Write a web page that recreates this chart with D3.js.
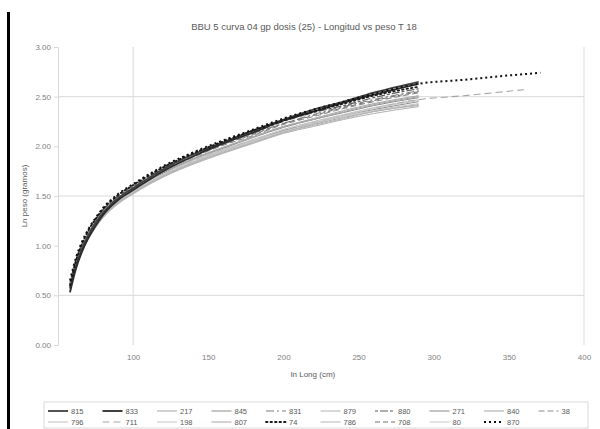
<!DOCTYPE html>
<html>
<head>
<meta charset="utf-8">
<script src="https://cdn.jsdelivr.net/npm/d3@7"></script>
<style>
  html, body { margin: 0; padding: 0; background: #fff; }
  svg { display: block; font-family: "Liberation Sans", Arial, sans-serif; }
</style>
</head>
<body>
<svg id="chart" width="600" height="429"></svg>
<script>
// Length (x) vs. log weight (y) growth curves
const chartTitle = "BBU 5 curva 04 gp dosis (25) - Longitud vs peso T 18";
const xTitle = "ln Long (cm)";
const yTitle = "Ln peso (gramos)";

const xTicks = [100, 150, 200, 250, 300, 350, 400];
const yTicks = [0, 0.5, 1, 1.5, 2, 2.5, 3];
const gridY = [0.5, 1.5, 2.5];
const gridX = [100, 400];

const xShort = [58, 62, 66, 70, 75, 80, 90, 100, 120, 140, 160, 180, 200, 220, 240, 260, 290];
const xGray = [58, 62, 66, 70, 75, 80, 90, 100, 120, 140, 160, 180, 200, 220, 240, 260, 290, 320, 340, 360];
const xLong = [58, 62, 66, 70, 75, 80, 90, 100, 120, 140, 160, 180, 200, 220, 240, 260, 290, 320, 340, 371];

const seriesNames = ["815", "833", "217", "845", "831", "879", "880", "271", "840", "38",
                     "796", "711", "198", "807", "74", "786", "708", "80", "870"];

const seriesValues = [
  [0.57,0.80,0.97,1.10,1.23,1.33,1.48,1.58,1.77,1.92,2.04,2.16,2.27,2.37,2.45,2.54,2.65],
  [0.53,0.77,0.94,1.07,1.20,1.31,1.46,1.56,1.75,1.90,2.03,2.14,2.26,2.35,2.44,2.52,2.63],
  [0.61,0.83,0.99,1.11,1.23,1.33,1.47,1.57,1.74,1.88,1.99,2.10,2.20,2.28,2.36,2.43,2.51],
  [0.59,0.80,0.96,1.08,1.20,1.30,1.44,1.54,1.71,1.84,1.96,2.06,2.16,2.23,2.31,2.37,2.45],
  [0.55,0.80,0.98,1.11,1.24,1.35,1.49,1.59,1.77,1.90,2.02,2.13,2.23,2.32,2.40,2.47,2.56],
  [0.57,0.78,0.94,1.06,1.18,1.28,1.42,1.52,1.69,1.82,1.93,2.03,2.13,2.20,2.27,2.33,2.40],
  [0.63,0.86,1.02,1.14,1.26,1.36,1.50,1.60,1.78,1.92,2.03,2.14,2.25,2.34,2.41,2.49,2.58],
  [0.60,0.82,0.98,1.10,1.22,1.32,1.46,1.56,1.73,1.87,1.98,2.09,2.19,2.27,2.34,2.41,2.49],
  [0.58,0.79,0.95,1.07,1.19,1.29,1.43,1.53,1.70,1.83,1.94,2.04,2.14,2.22,2.29,2.35,2.42],
  [0.62,0.84,1.00,1.12,1.24,1.34,1.48,1.58,1.76,1.89,2.01,2.11,2.22,2.30,2.38,2.45,2.54],
  [0.59,0.81,0.97,1.09,1.21,1.31,1.45,1.55,1.72,1.86,1.97,2.07,2.17,2.25,2.32,2.39,2.47],
  [0.60,0.81,0.96,1.08,1.20,1.30,1.44,1.54,1.71,1.85,1.96,2.06,2.16,2.24,2.31,2.38,2.47,2.51,2.54,2.57],
  [0.58,0.80,0.96,1.08,1.20,1.30,1.44,1.54,1.71,1.84,1.95,2.05,2.15,2.23,2.30,2.36,2.43],
  [0.61,0.83,0.99,1.11,1.23,1.33,1.47,1.57,1.74,1.87,1.99,2.09,2.20,2.27,2.35,2.42,2.50],
  [0.60,0.85,1.02,1.15,1.27,1.37,1.51,1.61,1.79,1.93,2.05,2.16,2.26,2.35,2.43,2.51,2.60],
  [0.57,0.79,0.95,1.07,1.19,1.29,1.43,1.53,1.70,1.83,1.94,2.04,2.14,2.21,2.28,2.35,2.41],
  [0.62,0.84,1.00,1.12,1.24,1.34,1.48,1.58,1.76,1.90,2.02,2.12,2.23,2.31,2.39,2.46,2.55],
  [0.60,0.81,0.97,1.09,1.21,1.31,1.45,1.55,1.72,1.85,1.96,2.06,2.17,2.24,2.31,2.38,2.46],
  [0.65,0.88,1.04,1.16,1.28,1.38,1.52,1.62,1.80,1.94,2.06,2.17,2.28,2.37,2.45,2.53,2.63,2.67,2.70,2.74]
];

// Line styles per series: stroke colour, width, dash pattern
const seriesStyles = [
  { c: "#404040", w: 1.8, d: null },
  { c: "#2b2b2b", w: 1.8, d: null },
  { c: "#a6a6a6", w: 1.0, d: null },
  { c: "#8c8c8c", w: 1.0, d: null },
  { c: "#7f7f7f", w: 1.2, d: "8,3,2,3" },
  { c: "#b0b0b0", w: 1.0, d: null },
  { c: "#595959", w: 1.2, d: "3,2,8,2" },
  { c: "#8a8a8a", w: 1.0, d: null },
  { c: "#a6a6a6", w: 1.0, d: null },
  { c: "#8c8c8c", w: 1.1, d: "6,3" },
  { c: "#bfbfbf", w: 1.0, d: null },
  { c: "#a6a6a6", w: 1.1, d: "7,4" },
  { c: "#c4c4c4", w: 1.0, d: null },
  { c: "#a6a6a6", w: 1.0, d: null },
  { c: "#1a1a1a", w: 1.8, d: "1.5,3", cap: "round" },
  { c: "#b5b5b5", w: 1.0, d: null },
  { c: "#707070", w: 1.0, d: "5,3" },
  { c: "#c9c9c9", w: 1.0, d: null },
  { c: "#111111", w: 2.0, d: "2,3" }
];

const xSets = seriesValues.map((v, i) => i === 11 ? xGray : (i === 18 ? xLong : xShort));

const svg = d3.select("#chart");
const margin = { left: 58, right: 16, top: 47, bottom: 84 };
const W = 600, H = 429;

const x = d3.scaleLinear().domain([50, 400]).range([margin.left, W - margin.right]);
const y = d3.scaleLinear().domain([0, 3]).range([H - margin.bottom, margin.top]);

// Left page edge bar
svg.append("rect").attr("x", 7).attr("y", 12).attr("width", 3).attr("height", H - 12).attr("fill", "#000");

// Title
svg.append("text").attr("x", 304).attr("y", 30).attr("text-anchor", "middle")
  .attr("font-size", 9.5).attr("fill", "#595959").text(chartTitle);

// Gridlines
svg.append("g").selectAll("line").data(gridY).join("line")
  .attr("x1", x(50)).attr("x2", x(400)).attr("y1", d => y(d)).attr("y2", d => y(d))
  .attr("stroke", "#d9d9d9").attr("stroke-width", 1);
svg.append("g").selectAll("line").data(gridX).join("line")
  .attr("x1", d => x(d)).attr("x2", d => x(d)).attr("y1", y(3)).attr("y2", y(0))
  .attr("stroke", "#d9d9d9").attr("stroke-width", 1);

// Axes
const yAxis = svg.append("g").attr("transform", `translate(${x(50)},0)`)
  .call(d3.axisLeft(y).tickValues(yTicks).tickFormat(d3.format(".2f")).tickSize(4).tickPadding(3));
const xAxis = svg.append("g").attr("transform", `translate(0,${y(0)})`)
  .call(d3.axisBottom(x).tickValues(xTicks).tickFormat(d3.format("d")).tickSize(0).tickPadding(9));
[yAxis, xAxis].forEach(g => {
  g.select(".domain").attr("stroke", "#d9d9d9");
  g.selectAll(".tick line").attr("stroke", "#d9d9d9");
  g.selectAll("text").attr("fill", "#7f7f7f").attr("font-size", 8).attr("font-family", "Liberation Sans, Arial, sans-serif");
});
xAxis.select(".domain").remove();

// Axis titles
svg.append("text").attr("x", 313).attr("y", 377).attr("text-anchor", "middle")
  .attr("font-size", 8).attr("fill", "#595959").text(xTitle);
svg.append("text").attr("transform", `translate(27,${(y(0) + y(3)) / 2}) rotate(-90)`)
  .attr("text-anchor", "middle").attr("font-size", 8).attr("fill", "#595959").text(yTitle);

// Curves
const line = d3.line().curve(d3.curveMonotoneX).x(d => x(d[0])).y(d => y(d[1]));
const plot = svg.append("g");
seriesValues.forEach((vals, i) => {
  const pts = vals.map((v, j) => [xSets[i][j], v]);
  const s = seriesStyles[i];
  plot.append("path").datum(pts).attr("d", line)
    .attr("fill", "none").attr("stroke", s.c).attr("stroke-width", s.w)
    .attr("stroke-dasharray", s.d).attr("stroke-linecap", s.cap || "butt");
});
// draw the two thick dark and dotted series on top
plot.selectAll("path").filter((d, i) => [0, 1, 14, 18].includes(i)).raise();

// Legend
const legend = svg.append("g");
legend.append("rect").attr("x", 44).attr("y", 402).attr("width", 544).attr("height", 26)
  .attr("fill", "none").attr("stroke", "#d9d9d9");
const colX = i => 48 + (i % 10) * 54.5;
const rowY = i => (i < 10 ? 411 : 422);
seriesNames.forEach((name, i) => {
  const s = seriesStyles[i];
  const gx = colX(i), gy = rowY(i);
  legend.append("line").attr("x1", gx).attr("x2", gx + 20).attr("y1", gy).attr("y2", gy)
    .attr("stroke", s.c).attr("stroke-width", s.w).attr("stroke-dasharray", s.d)
    .attr("stroke-linecap", s.cap || "butt");
  legend.append("text").attr("x", gx + 23).attr("y", gy + 3).attr("font-size", 7.5)
    .attr("fill", "#595959").text(name);
});
</script>
</body>
</html>
